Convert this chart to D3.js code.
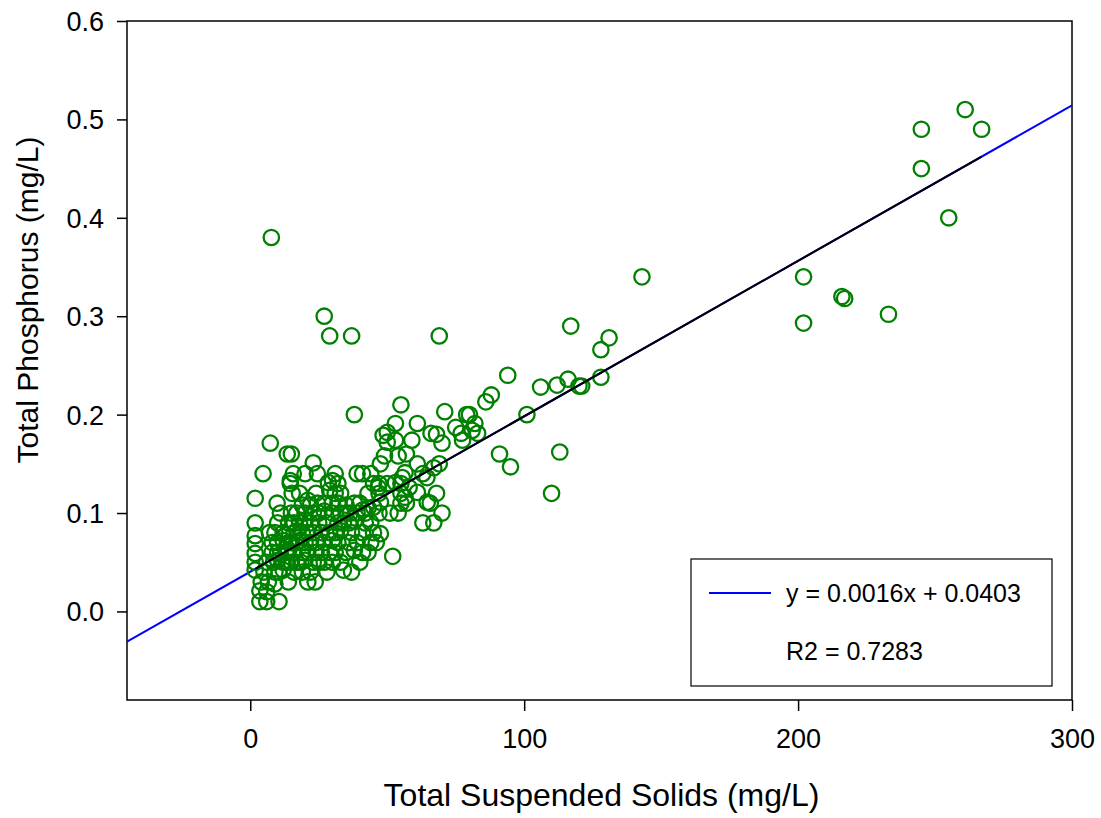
<!DOCTYPE html>
<html>
<head>
<meta charset="utf-8">
<script src="https://cdn.jsdelivr.net/npm/d3@7"></script>
<style>
  html, body { margin: 0; padding: 0; background: #fff; }
  svg { display: block; font-family: "Liberation Sans", Arial, sans-serif; }
</style>
</head>
<body>
<svg id="chart" width="1101" height="818"></svg>
<script>
// Total suspended solids (mg/L) for each sample
const tss = [
  3.5, 6, 10.5,
  3.5, 6,
  4, 6.6, 13.9, 21, 23.7, 9,
  1.8, 5, 9, 10.5, 12, 16, 19, 22, 28, 34, 37,
  1.8, 6, 8.5, 10, 12, 13.5, 15, 17, 18.5, 20, 23, 25, 27, 30, 33, 40,
  1.8, 8, 10, 11, 13, 14, 16, 19, 21, 24, 26, 29, 31, 35, 38, 41, 43, 52,
  1.8, 8, 10, 12, 14, 15, 17, 18, 20, 22, 24, 27, 30, 32, 36, 39, 44, 46,
  1.8, 7, 9, 12, 13, 16, 17, 19, 21, 23, 26, 29, 31, 33, 37, 41, 45, 47.5,
  1.8, 10, 14, 16, 18, 20, 22, 25, 28, 32, 34, 36, 38, 42, 44, 63, 67,
  11, 15, 17, 20, 23, 25, 27, 30, 33, 35, 36.5, 39, 41, 42, 47, 51, 54, 70,
  9.8, 19, 21, 22, 24.5, 27, 30, 32, 35, 38, 40, 43, 45, 47.5, 55, 57, 64.6, 65.7,
  1.8, 15.3, 18, 24, 29, 31, 33, 43, 47, 55, 56.5, 58, 61, 68, 46.7,
  14.6, 14.6, 28.5, 30, 32, 45, 47, 50, 53, 55,
  4.7, 15.7, 20, 24.5, 31, 39, 41, 44, 55.5, 56.5, 63, 64.5,
  23, 47.5, 61, 69, 67,
  13.5, 15, 49, 54, 57,
  7.3, 50, 53, 59, 70,
  48.5, 50, 66, 68, 77, 77.5, 81, 83,
  53, 61, 75, 82,
  38, 71, 79, 80, 101,
  55, 86, 88, 94,
  7.7, 27, 29, 37, 69,
  106, 112, 116, 117, 120, 121, 128, 128, 131, 143, 91, 95, 113, 110,
  202, 202, 216, 217, 233, 245, 245, 255, 261, 267
];

// Total phosphorus (mg/L) for the same samples
const tp = [
  0.01, 0.01, 0.01,
  0.021, 0.02,
  0.03, 0.03, 0.03, 0.03, 0.03, 0.028,
  0.042, 0.04, 0.04, 0.04, 0.042, 0.04, 0.04, 0.04, 0.04, 0.042, 0.04,
  0.05, 0.05, 0.05, 0.052, 0.05, 0.05, 0.05, 0.05, 0.05, 0.052, 0.05, 0.05, 0.05, 0.05, 0.05, 0.05,
  0.059, 0.06, 0.06, 0.058, 0.06, 0.062, 0.06, 0.06, 0.06, 0.06, 0.06, 0.06, 0.06, 0.06, 0.062, 0.06, 0.06, 0.056,
  0.069, 0.07, 0.07, 0.072, 0.07, 0.07, 0.07, 0.072, 0.07, 0.07, 0.07, 0.07, 0.072, 0.07, 0.07, 0.07, 0.07, 0.07,
  0.077, 0.08, 0.08, 0.08, 0.078, 0.08, 0.082, 0.08, 0.08, 0.08, 0.08, 0.08, 0.08, 0.082, 0.08, 0.08, 0.08, 0.079,
  0.09, 0.09, 0.09, 0.09, 0.09, 0.092, 0.09, 0.09, 0.09, 0.09, 0.09, 0.09, 0.092, 0.09, 0.09, 0.09, 0.09,
  0.1, 0.1, 0.1, 0.1, 0.1, 0.1, 0.102, 0.1, 0.1, 0.1, 0.1, 0.1, 0.103, 0.1, 0.1, 0.1, 0.1, 0.1,
  0.11, 0.108, 0.113, 0.108, 0.11, 0.11, 0.11, 0.11, 0.108, 0.11, 0.11, 0.105, 0.106, 0.111, 0.11, 0.11, 0.111, 0.11,
  0.115, 0.12, 0.12, 0.12, 0.123, 0.12, 0.12, 0.12, 0.12, 0.12, 0.116, 0.126, 0.121, 0.12, 0.126,
  0.13, 0.133, 0.131, 0.133, 0.13, 0.13, 0.13, 0.13, 0.131, 0.13,
  0.14, 0.14, 0.14, 0.14, 0.14, 0.14, 0.14, 0.14, 0.136, 0.141, 0.14, 0.136,
  0.151, 0.15, 0.15, 0.15, 0.146,
  0.16, 0.16, 0.158, 0.158, 0.16,
  0.171, 0.172, 0.174, 0.174, 0.171,
  0.179, 0.182, 0.181, 0.18, 0.181, 0.174, 0.184, 0.181,
  0.191, 0.191, 0.187, 0.191,
  0.2, 0.203, 0.2, 0.2, 0.2,
  0.21, 0.213, 0.22, 0.24,
  0.38, 0.3, 0.28, 0.28, 0.28,
  0.228, 0.23, 0.236, 0.29, 0.229, 0.229, 0.238, 0.266, 0.278, 0.34, 0.16, 0.147, 0.162, 0.12,
  0.34, 0.293, 0.32, 0.318, 0.302, 0.45, 0.49, 0.4, 0.51, 0.49
];

// Linear fit of TP on TSS
const fitSlope = 0.00158;
const fitIntercept = 0.0403;
const fitR2 = 0.7283;

// Axis ticks and titles
const xTicks = [0, 100, 200, 300];
const yTicks = [0.0, 0.1, 0.2, 0.3, 0.4, 0.5, 0.6];
const xDomain = [-45, 300];
const yDomain = [-0.09, 0.6];
const xTitle = "Total Suspended Solids (mg/L)";
const yTitle = "Total Phosphorus (mg/L)";

const points = tss.map((v, i) => ({ x: v, y: tp[i] }));

const svg = d3.select("#chart");
const W = 1101, H = 818;
const plot = { left: 127, right: 1072, top: 21, bottom: 700 };

const x = d3.scaleLinear().domain(xDomain).range([plot.left, plot.right]);
const y = d3.scaleLinear().domain(yDomain).range([plot.bottom, plot.top]);

svg.append("rect").attr("width", W).attr("height", H).attr("fill", "#fff");

svg.append("defs").append("clipPath").attr("id", "plot-clip")
  .append("rect")
  .attr("x", plot.left).attr("y", plot.top)
  .attr("width", plot.right - plot.left).attr("height", plot.bottom - plot.top);

// X axis
const gx = svg.append("g")
  .attr("transform", `translate(0,${plot.bottom})`)
  .call(d3.axisBottom(x).tickValues(xTicks).tickFormat(d3.format("d")).tickSize(11).tickSizeOuter(0));
gx.select(".domain").remove();
gx.selectAll(".tick line").attr("stroke", "#000").attr("stroke-width", 1.5);
gx.selectAll(".tick text")
  .attr("y", 48).attr("dy", null)
  .attr("fill", "#000").attr("font-size", 27)
  .attr("font-family", "Liberation Sans, Arial, sans-serif");

// Y axis
const gy = svg.append("g")
  .attr("transform", `translate(${plot.left},0)`)
  .call(d3.axisLeft(y).tickValues(yTicks).tickFormat(d3.format(".1f")).tickSize(10).tickSizeOuter(0));
gy.select(".domain").remove();
gy.selectAll(".tick line").attr("stroke", "#000").attr("stroke-width", 1.5);
gy.selectAll(".tick text")
  .attr("x", -23).attr("dy", "0.35em")
  .attr("fill", "#000").attr("font-size", 27)
  .attr("font-family", "Liberation Sans, Arial, sans-serif");

// Plot frame
svg.append("rect")
  .attr("x", plot.left).attr("y", plot.top)
  .attr("width", plot.right - plot.left).attr("height", plot.bottom - plot.top)
  .attr("fill", "none").attr("stroke", "#000").attr("stroke-width", 1.5);

const fit = v => fitIntercept + fitSlope * v;
const lineGen = d3.line().x(d => x(d)).y(d => y(fit(d)));

// Full-range fitted line
svg.append("path")
  .attr("clip-path", "url(#plot-clip)")
  .attr("d", lineGen(xDomain))
  .attr("fill", "none").attr("stroke", "#0000ff").attr("stroke-width", 2);

// Sample points
svg.append("g")
  .attr("clip-path", "url(#plot-clip)")
  .selectAll("circle")
  .data(points)
  .join("circle")
  .attr("cx", d => x(d.x))
  .attr("cy", d => y(d.y))
  .attr("r", 7.7)
  .attr("fill", "none")
  .attr("stroke", "#008000")
  .attr("stroke-width", 2.3);

// Fitted line across the observed TSS range
svg.append("path")
  .attr("d", lineGen(d3.extent(tss)))
  .attr("fill", "none").attr("stroke", "#000").attr("stroke-width", 2);

// Legend
const lg = svg.append("g").attr("transform", "translate(691,559)");
lg.append("rect").attr("width", 361).attr("height", 127)
  .attr("fill", "#fff").attr("stroke", "#000").attr("stroke-width", 1.2);
lg.append("line").attr("x1", 18).attr("x2", 80).attr("y1", 34).attr("y2", 34)
  .attr("stroke", "#0000ff").attr("stroke-width", 2);
lg.append("text").attr("x", 95).attr("y", 43).attr("font-size", 25).attr("fill", "#000")
  .text(`y = ${fitSlope.toFixed(4)}x + ${fitIntercept.toFixed(4)}`);
lg.append("text").attr("x", 95).attr("y", 101).attr("font-size", 25).attr("fill", "#000")
  .text(`R2 = ${fitR2.toFixed(4)}`);

// Axis titles
svg.append("text")
  .attr("x", (plot.left + plot.right) / 2 + 2).attr("y", 806)
  .attr("text-anchor", "middle").attr("font-size", 32).attr("fill", "#000")
  .text(xTitle);
svg.append("text")
  .attr("transform", "translate(38,300) rotate(-90)")
  .attr("text-anchor", "middle").attr("font-size", 30).attr("fill", "#000")
  .text(yTitle);
</script>
</body>
</html>
